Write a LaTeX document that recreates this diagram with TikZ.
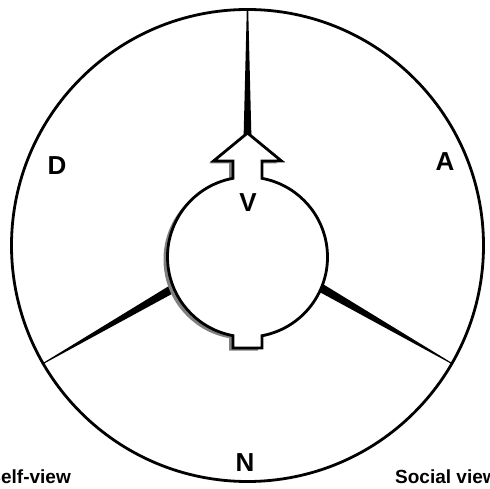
\documentclass[tikz,border=0pt]{standalone}
\usepackage{fontspec}
\setmainfont{Liberation Sans}
\usetikzlibrary{calc}
\newcommand\MindShapePath{(14.5,78.7) -- (14.5,96) -- (34,96) -- (0,124) -- (-34,96) -- (-14.5,96) -- (-14.5,78.7) arc[start angle=100.44, end angle=259.56, radius=80] -- (-14.5,-91) -- (14.5,-91) -- (14.5,-78.7) arc[start angle=-79.56, end angle=79.56, radius=80] -- cycle}
\begin{document}
\begin{tikzpicture}[x=1pt,y=1pt,
  lbl/.style={font=\bfseries\fontsize{26}{26}\selectfont, inner sep=0pt},
  captext/.style={font=\bfseries\fontsize{19}{19}\selectfont, inner sep=0pt},
  spike/.style={fill=black, draw=none},
  ring/.style={circle, draw=black, line width=2.8pt, minimum size=472pt, inner sep=0pt, outer sep=0pt},
  mindline/.style={draw=black, fill=white, line width=2.8pt, line join=miter},
  shadow/.style={fill=black!50, draw=none}]
\useasboundingbox (0,0) rectangle (490,488);
\clip (0,0) rectangle (490,488);
\fill[white] (0,0) rectangle (490,488);
\coordinate (O) at (247.5,242.5);
\coordinate (C) at (247.5,231);
\node[ring] (outer) at (O) {};
% spikes
\fill[spike] ($(O)+(90:105)+(0:4)$) -- ($(O)+(90:105)+(180:4)$) -- ($(outer.90)+(180:0.7)$) -- ($(outer.90)+(0:0.7)$) -- cycle;
\fill[spike] ($(O)+(210:72)+(300:4.6)$) -- ($(O)+(210:72)+(120:4.6)$) -- ($(outer.210)+(120:0.5)$) -- ($(outer.210)+(300:0.5)$) -- cycle;
\fill[spike] ($(O)+(330:72)+(60:4.6)$) -- ($(O)+(330:72)+(240:4.6)$) -- ($(outer.330)+(240:0.5)$) -- ($(outer.330)+(60:0.5)$) -- cycle;
% shadow and mind shape
\begin{scope}[shift={(243.5,228.5)}]
  \path[shadow] \MindShapePath;
\end{scope}
\begin{scope}[shift={(C)}]
  \path[mindline] \MindShapePath;
\end{scope}
% labels
\node[lbl] (D) at (57,322) {D};
\node[lbl] (A) at (445,326) {A};
\node[lbl] (V) at (248,285) {V};
\node[lbl] (N) at (245,25) {N};
\node[captext, anchor=base east] (self) at (71,5) {Self-view};
\node[captext, anchor=base west] (social) at (395,5) {Social view};
\end{tikzpicture}
\end{document}
